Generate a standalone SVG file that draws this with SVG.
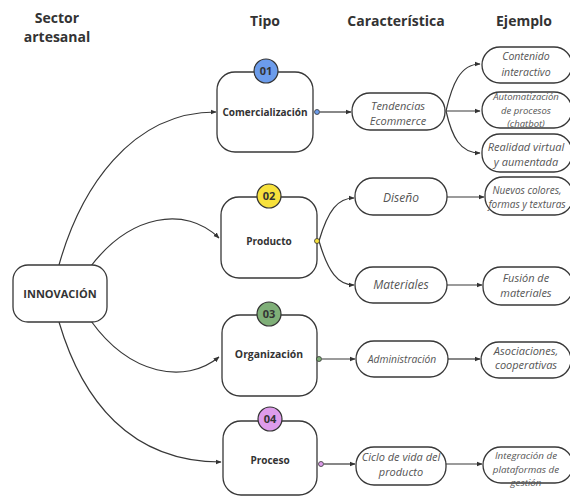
<svg xmlns="http://www.w3.org/2000/svg" width="570" height="497" viewBox="0 0 570 497">
<defs>
<marker id="arr" viewBox="0 0 10 10" refX="9" refY="5" markerWidth="6" markerHeight="6" orient="auto" markerUnits="userSpaceOnUse">
<path d="M0,1 L10,5 L0,9 Z" fill="#333"/>
</marker>
<style>
text{font-family:"Open Sans","Noto Sans",sans-serif;text-anchor:middle}
.hdr{font-weight:700;font-size:14px;fill:#333}
.box{fill:#fff;stroke:#383838;stroke-width:1.3}
.tipo{font-weight:700;font-size:10px;fill:#333}
.it{font-style:italic;font-size:12px;fill:#555}
.ex{font-style:italic;font-size:10.5px;fill:#555}
.c{fill:none;stroke:#383838;stroke-width:1.2;marker-end:url(#arr)}
.badge{stroke:#333;stroke-width:1.2}
.bt{font-weight:700;font-size:11px;fill:#333}
.dot{stroke:#333;stroke-width:0.8}
</style>
</defs>
<rect width="570" height="497" fill="#fff"/>

<g id="headers">
<text class="hdr" x="57" y="23">Sector</text>
<text class="hdr" x="57" y="42">artesanal</text>
<text class="hdr" x="265" y="26">Tipo</text>
<text class="hdr" x="396" y="26">Característica</text>
<text class="hdr" x="524" y="26">Ejemplo</text>
</g>

<g id="connectors">
<path class="c" d="M59,265 C80,190 130,112 216,112"/>
<path class="c" d="M91,266 C130,215 185,205 219,238"/>
<path class="c" d="M91,321 C130,375 185,385 219,357"/>
<path class="c" d="M59,322 C82,400 130,462 221,462"/>
<path class="c" d="M320,112 L351,112"/>
<path class="c" d="M446,111 C452,85 460,64 480,64"/>
<path class="c" d="M446,111 L480,111"/>
<path class="c" d="M446,111 C452,137 460,153 480,153"/>
<path class="c" d="M319,241 C328,210 338,198 354,198"/>
<path class="c" d="M319,241 C328,272 338,285 354,285"/>
<path class="c" d="M447,197 L484,197"/>
<path class="c" d="M447,285 L482,285"/>
<path class="c" d="M322,359 L355,359"/>
<path class="c" d="M448,359 L480,359"/>
<path class="c" d="M324,464 L355,464"/>
<path class="c" d="M446,464 L482,464"/>
</g>

<g id="innovacion">
<rect class="box" x="13" y="265" width="94" height="57" rx="15"/>
<text class="tipo" x="60" y="298" style="font-size:11px">INNOVACIÓN</text>
</g>

<g id="comercializacion">
<rect class="box" x="217" y="72" width="96" height="80" rx="18"/>
<circle class="badge" cx="266" cy="71" r="12" fill="#6C9CEB"/>
<text class="bt" x="266" y="75">01</text>
<text class="tipo" x="265" y="116">Comercialización</text>
<circle class="dot" cx="317" cy="112" r="2.5" fill="#6C9CEB"/>
</g>

<g id="producto">
<rect class="box" x="221" y="197" width="96" height="81" rx="18"/>
<circle class="badge" cx="269" cy="196" r="12" fill="#F7E13C"/>
<text class="bt" x="269" y="200">02</text>
<text class="tipo" x="269" y="245">Producto</text>
<circle class="dot" cx="317" cy="241" r="2.5" fill="#F7E13C"/>
</g>

<g id="organizacion">
<rect class="box" x="222" y="315" width="95" height="81" rx="18"/>
<circle class="badge" cx="269" cy="314" r="12" fill="#7FAF78"/>
<text class="bt" x="269" y="318">03</text>
<text class="tipo" x="269" y="358" style="font-size:10.4px">Organización</text>
<circle class="dot" cx="319" cy="359" r="2.5" fill="#7FAF78"/>
</g>

<g id="proceso">
<rect class="box" x="223" y="421" width="94" height="74" rx="18"/>
<circle class="badge" cx="270" cy="419" r="12" fill="#DE9CEB"/>
<text class="bt" x="270" y="423">04</text>
<text class="tipo" x="270" y="464">Proceso</text>
<circle class="dot" cx="321" cy="464" r="2.5" fill="#DE9CEB"/>
</g>

<g id="tendencias">
<rect class="box" x="352" y="93" width="93" height="37" rx="18"/>
<text class="it" x="398" y="109.5" style="font-size:11px">Tendencias</text>
<text class="it" x="398" y="125" style="font-size:11px">Ecommerce</text>
</g>

<g id="diseno">
<rect class="box" x="355" y="178" width="92" height="37" rx="18"/>
<text class="it" x="401" y="202">Diseño</text>
</g>

<g id="materiales">
<rect class="box" x="355" y="267" width="92" height="36" rx="18"/>
<text class="it" x="401" y="289">Materiales</text>
</g>

<g id="administracion">
<rect class="box" x="356" y="341" width="92" height="36" rx="18"/>
<text class="it" x="402" y="363" style="font-size:10.3px">Administración</text>
</g>

<g id="ciclo">
<rect class="box" x="356" y="447" width="90" height="38" rx="18"/>
<text class="it" x="401" y="461" style="font-size:11px">Ciclo de vida del</text>
<text class="it" x="401" y="476" style="font-size:11px">producto</text>
</g>

<g id="contenido">
<rect class="box" x="482" y="47" width="90" height="36" rx="18"/>
<text class="ex" x="526" y="60">Contenido</text>
<text class="ex" x="526" y="76">interactivo</text>
</g>

<g id="automatizacion">
<rect class="box" x="482" y="92" width="90" height="36" rx="18"/>
<text class="ex" x="526" y="100" style="font-size:9.5px">Automatización</text>
<text class="ex" x="526" y="113.5" style="font-size:9.5px">de procesos</text>
<text class="ex" x="526" y="127" style="font-size:9.5px">(chatbot)</text>
</g>

<g id="realidad">
<rect class="box" x="482" y="134" width="90" height="38" rx="18"/>
<text class="ex" x="526" y="151" style="font-size:11px">Realidad virtual</text>
<text class="ex" x="526" y="166" style="font-size:11px">y aumentada</text>
</g>

<g id="nuevos">
<rect class="box" x="485" y="177" width="88" height="38" rx="18"/>
<text class="ex" x="527" y="193.5" style="font-size:10px">Nuevos colores,</text>
<text class="ex" x="527" y="208" style="font-size:10px">formas y texturas</text>
</g>

<g id="fusion">
<rect class="box" x="483" y="267" width="90" height="38" rx="18"/>
<text class="ex" x="526" y="282" style="font-size:11px">Fusión de</text>
<text class="ex" x="526" y="297" style="font-size:11px">materiales</text>
</g>

<g id="asociaciones">
<rect class="box" x="481" y="342" width="90" height="36" rx="18"/>
<text class="ex" x="526" y="354.5" style="font-size:11px">Asociaciones,</text>
<text class="ex" x="526" y="369" style="font-size:11px">cooperativas</text>
</g>

<g id="integracion">
<rect class="box" x="483" y="447" width="90" height="36" rx="18"/>
<text class="ex" x="526" y="459" style="font-size:9.8px">Integración de</text>
<text class="ex" x="526" y="472.5" style="font-size:9.8px">plataformas de</text>
<text class="ex" x="526" y="486" style="font-size:9.8px">gestión</text>
</g>
</svg>
